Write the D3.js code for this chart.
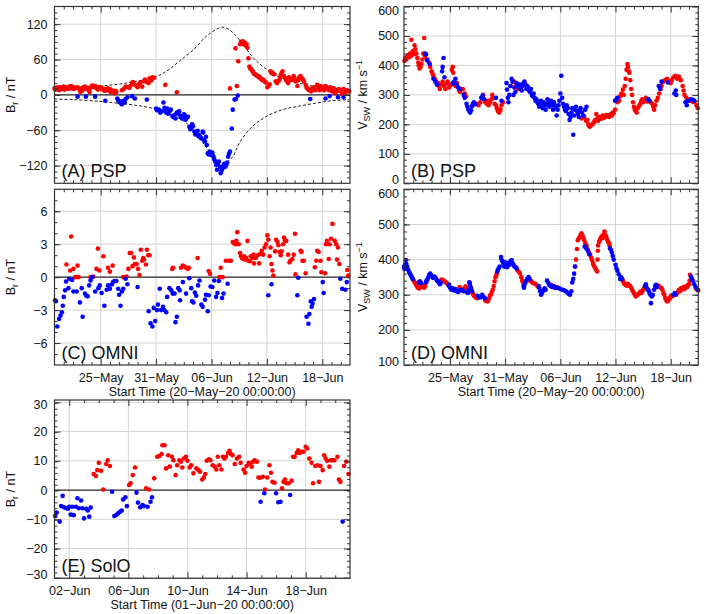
<!DOCTYPE html>
<html><head><meta charset="utf-8">
<script src="https://cdn.jsdelivr.net/npm/d3@7"></script>
<style>body{margin:0;background:#fff} svg{display:block;font-family:"Liberation Sans",Arial,Helvetica,sans-serif}</style>
</head><body><svg id="c" width="706" height="614"></svg>
<script>
// ---------- tick labels ----------
const mayTickDays = [5, 11, 17, 23, 29];
const mayTickLabels = ["25\u2212May", "31\u2212May", "06\u2212Jun", "12\u2212Jun", "18\u2212Jun"];
const junTickDays = [1, 5, 9, 13, 17];
const junTickLabels = ["02\u2212Jun", "06\u2212Jun", "10\u2212Jun", "14\u2212Jun", "18\u2212Jun"];
const mayTitle = "Start Time (20\u2212May\u221220 00:00:00)";
const junTitle = "Start Time (01\u2212Jun\u221220 00:00:00)";

// ---------- (A) PSP Br [day since 20-May, nT] ----------
const pspBrRed = [[0.0,11],[0.1,9],[0.2,12],[0.3,10],[0.4,13],[0.5,8],[0.6,11],[0.7,13],[0.8,10],[0.9,12],[1.0,14],[1.1,9],[1.2,12],[1.3,11],[1.4,13],[1.5,10],[1.6,14],[1.7,12],[1.8,15],[1.9,11],[2.0,13],[2.1,10],[2.3,12],[2.5,13],[2.7,9],[2.8,5],[2.9,11],[3.0,7],[3.1,13],[3.3,14],[3.4,10],[3.6,12],[3.7,8],[3.8,5],[3.9,12],[4.0,14],[4.1,16],[4.2,15],[4.3,13],[4.4,15],[4.5,14],[4.6,11],[4.7,9],[4.8,12],[4.9,13],[5.0,10],[5.1,12],[5.3,9],[5.4,7],[5.5,10],[5.6,8],[5.8,11],[5.9,7],[6.0,10],[6.1,5],[6.2,8],[6.4,6],[6.5,3],[6.6,7],[6.7,5],
[7.3,8],[7.5,10],[7.7,14],[7.9,13],[8.1,12],[8.2,15],[8.4,20],[8.5,22],[8.6,18],[8.8,16],[9.0,13],[9.1,18],[9.3,21],[9.5,14],[9.7,23],[9.8,26],[10.0,22],[10.2,20],[10.3,28],[10.5,25],[10.6,30],[10.8,29],[12.0,17],[13.25,4.5],
[19.0,11],[19.6,79],[19.75,15],[19.9,57],[20.1,86],[20.2,90],[20.3,88],[20.4,91],[20.5,86],[20.6,89],[20.7,84],[20.8,86],[20.9,80],[21.0,62],[21.1,48],[21.2,45],[21.3,44],[21.4,41],[21.5,39],[21.6,36],[21.7,35],[21.8,34],[21.9,33],[22.0,32],[22.1,30],[22.2,31],[22.3,28],[22.4,27],[22.5,25],[22.6,26],[22.7,24],[22.8,22],[22.9,21],[23.05,13],[23.2,15],[23.3,18],[23.4,40],[23.5,37],[23.6,38],[23.7,36],[23.8,35],[23.95,23],[24.1,20],[24.3,24],[24.4,28],[24.5,34],[24.6,37],[24.7,40],[24.85,32],[25.0,28],[25.1,25],[25.2,23],[25.3,20],[25.4,30],[25.6,25],[25.75,27],[25.9,32],[26.0,28],[26.1,23],[26.3,15],[26.4,25],[26.5,30],[26.65,32],[26.8,28],[26.9,26],[27.0,23],[27.2,17],[27.3,12],[27.4,11],[27.55,8],[27.8,6],[27.9,11],[28.0,9],[28.1,13],[28.25,8],[28.45,17],[28.6,11],[28.7,8],[28.8,15],[29.0,13],[29.1,10],[29.2,8],[29.35,15],[29.5,13],[29.6,11],[29.7,8],[29.9,13],[30.05,6],[30.15,9],[30.25,11],[30.4,3],[30.5,5],[30.6,7],[30.8,10],[30.9,8],[31.0,6],[31.15,1],[31.3,10],[31.5,4],[31.6,6],[31.7,8],[31.9,6]];
const pspBrBlue = [[2.5,-3],[3.4,-3],[4.4,-3],[5.5,-10],[6.8,-6],[6.9,-9],[7.0,-12],[7.1,-11],[7.2,-14],[7.3,-16],[7.4,-12],[7.5,-10],[7.6,-13],[7.7,-7],[7.9,-4],[8.4,-2],[8.7,-6],[10.0,-8],
[11.0,-23],[11.1,-26],[11.3,-25],[11.45,-30],[11.6,-28],[11.8,-13],[11.9,-22],[12.0,-25],[12.1,-30],[12.2,-23],[12.3,-32],[12.4,-28],[12.5,-27],[12.6,-25],[12.75,-36],[12.9,-38],[13.0,-34],[13.1,-40],[13.25,-30],[13.4,-32],[13.5,-28],[13.65,-36],[13.8,-40],[13.9,-38],[14.0,-33],[14.1,-34],[14.2,-42],[14.25,-40],[14.35,-38],[14.45,-37],[14.6,-54],[14.7,-58],[14.8,-57],[14.9,-50],[15.0,-53],[15.15,-62],[15.25,-67],[15.35,-65],[15.5,-61],[15.6,-70],[15.7,-68],[15.8,-72],[15.9,-74],[16.05,-62],[16.1,-64],[16.2,-76],[16.3,-79],[16.4,-71],[16.5,-85],[16.6,-99],[16.7,-101],[16.8,-96],[16.95,-102],[17.1,-98],[17.2,-104],[17.3,-109],[17.4,-113],[17.5,-119],[17.6,-127],[17.7,-118],[17.8,-113],[17.9,-122],[18.0,-133],[18.1,-128],[18.2,-125],[18.3,-120],[18.4,-117],[18.5,-122],[18.6,-119],[18.7,-115],[18.8,-105],[18.9,-100],[19.0,-96],[19.2,-57],[19.3,-25],[19.5,-8],[19.65,-7],[19.85,-1],
[27.7,-7],[29.35,-6],[29.8,-2],[30.7,-4],[31.3,-4]];
const pspModelUpper = [[0,11],[2,12],[4.9,15],[6.8,18],[8.5,22],[11,31],[12.3,42],[13.5,57],[15,76],[16.4,99],[17.5,111],[18.2,115],[18.9,111],[19.6,101],[20.5,84],[21.4,65],[22.2,53],[22.9,44],[23.8,35],[24.7,28],[25.6,24],[26.5,20],[28.3,14],[30,11.5],[31.9,10]];
const pspModelLower = [[0,-7],[2,-8],[4.9,-11],[6.8,-14],[8.5,-17],[10.7,-23],[12.8,-34],[14.3,-48],[15,-59],[16.4,-88],[17.5,-109],[18.4,-116],[19.3,-105],[20,-82],[21.4,-54],[22.9,-37],[24.7,-25],[26.5,-19],[28.3,-14],[30,-10],[31.9,-8]];

// ---------- (B) PSP Vsw [day, km/s] ----------
const pspVswRed = [[0.05,415],[0.15,425],[0.25,420],[0.35,430],[0.45,435],[0.55,428],[0.65,440],[0.75,432],[0.8,487],[0.9,445],[1.0,450],[1.1,438],[1.15,468],[1.25,455],[1.35,440],[1.45,425],[1.55,410],[1.6,400],[1.7,390],[1.8,395],[1.9,405],[2.0,420],[2.1,440],[2.2,493],[2.3,430],[2.55,420],[2.7,410],[2.85,395],[3.0,380],[3.1,372],[3.2,365],[3.35,355],[3.5,345],[3.6,335],[3.7,340],[3.8,330],[3.9,320],[4.0,335],[4.2,345],[4.35,330],[4.5,320],[4.6,338],[4.75,345],[4.9,325],[5.0,330],[5.1,335],[5.2,385],[5.3,395],[5.35,375],[5.5,335],[5.6,330],[5.75,340],[5.9,325],[6.0,315],[6.1,310],[6.4,320],[6.6,305],[6.75,295],
[7.9,270],[8.1,265],[8.3,275],[8.5,290],[8.6,300],[8.7,285],[8.85,275],[9.0,270],[9.1,280],[9.2,265],[9.35,275],[9.5,285],[9.6,300],[9.7,290],[9.85,270],[10.0,265],[10.1,255],[10.2,245],[10.35,240],[10.5,250],[10.6,265],[10.75,275],
[11.6,330],[12.0,345],[12.2,335],[12.4,320],[19.3,220],[19.6,225],[19.8,212],[19.95,215],[20.05,200],[20.1,195],
[20.2,192],[20.3,195],[20.4,198],[20.5,200],[20.6,205],[20.7,210],[20.8,215],[20.9,235],[21.0,220],[21.1,212],[21.2,225],[21.3,218],[21.4,225],[21.5,220],[21.6,230],[21.7,222],[21.8,228],[21.9,225],[22.0,232],[22.1,228],[22.2,230],[22.3,225],[22.4,232],[22.5,235],[22.6,230],[22.7,240],[22.8,238],[22.95,250],[23.2,275],[23.4,280],[23.5,295],[23.65,305],[23.8,318],[23.9,300],[24.0,330],[24.1,355],[24.2,385],[24.3,405],[24.35,395],[24.45,380],[24.5,375],[24.6,350],[24.7,320],[24.8,300],[24.9,275],[25.0,260],[25.1,250],[25.2,245],[25.3,240],[25.4,255],[25.5,260],[25.6,265],[25.7,270],[25.8,280],[25.9,285],[26.0,275],[26.15,282],[26.3,290],[26.45,278],[26.6,285],[26.8,275],[27.0,270],[27.1,260],[27.2,250],[27.3,265],[27.45,280],[27.6,290],[27.75,305],[27.9,320],[28.0,330],[28.2,345],[28.4,350],[28.6,355],[28.8,345],[29.0,340],[29.1,350],[29.3,360],[29.5,365],[29.6,360],[29.7,355],[29.9,362],[30.1,350],[30.3,330],[30.4,315],[30.5,300],[30.7,290],[30.9,285],[31.1,280],[31.3,282],[31.45,276],[31.6,278],[31.8,265],[31.95,255]];
const pspVswBlue = [[2.3,440],[2.4,438],[2.5,418],[2.8,405],[3.2,355],[3.4,345],[3.6,335],[4.15,380],[4.2,395],[4.3,425],[4.4,360],[5.3,340],[5.45,345],[5.6,355],[5.7,335],[5.9,325],[6.1,320],[6.5,300],[6.6,290],[6.8,270],[6.9,260],[7.0,250],[7.1,245],[7.2,240],[7.3,248],[7.4,262],[7.5,270],[7.6,275],[7.75,268],[8.4,290],[8.55,298],[8.7,285],[10.0,290],[10.6,280],
[11.15,340],[11.2,318],[11.3,290],[11.35,275],[11.45,300],[11.55,330],[11.7,355],[11.8,345],[11.9,300],[12.0,325],[12.1,310],[12.25,340],[12.35,330],[12.5,325],[12.6,335],[12.7,320],[12.8,315],[12.9,330],[13.0,340],[13.1,345],[13.2,335],[13.3,320],[13.4,330],[13.5,325],[13.6,315],[13.7,310],[13.8,320],[13.9,300],[14.0,295],[14.1,305],[14.2,290],[14.3,280],[14.4,285],[14.5,275],[14.6,270],[14.7,260],[14.8,265],[14.9,280],[15.0,270],[15.1,255],[15.2,275],[15.3,265],[15.4,250],[15.5,268],[15.6,285],[15.7,275],[15.8,260],[15.9,270],[16.0,280],[16.1,265],[16.2,250],[16.3,275],[16.4,265],[16.5,255],[16.6,230],[16.7,250],[16.8,265],[16.9,280],[17.0,305],[17.1,365],[17.2,290],[17.3,270],[17.4,260],[17.5,250],[17.6,245],[17.7,265],[17.8,255],[17.9,235],[18.0,215],[18.1,225],[18.2,240],[18.3,255],[18.4,165],[18.5,230],[18.6,250],[18.7,260],[18.8,245],[18.9,235],[19.0,225],[19.1,245],[19.2,255],[19.35,240],[19.5,230],[19.7,250],[19.85,260],
[22.95,280],[23.1,285],[23.2,290],[26.55,285],[26.7,280],[27.7,330],[27.85,320],[28.0,345],[28.7,342],[29.4,305],[29.55,315],[29.6,300],[30.6,275],[30.75,265],[30.9,280],[31.2,285],[31.4,283],[31.55,280]];

// ---------- (C) OMNI Br [day, nT] ----------
const omniBrRed = [[1.3,1.15],[1.7,0.6],[1.8,3.7],[2.05,0.75],[2.25,0],[2.5,1.05],[2.6,0],[3.9,0],[4.2,0.05],[4.55,0.75],[4.7,2.6],[4.85,0.6],[5.3,1.9],[5.8,0.85],[6.0,0.5],[6.3,1.05],[7.45,0],[7.8,0.05],[8.0,0.75],[8.15,2.2],[8.3,2.2],[8.45,1.0],[8.6,1.8],[8.7,1.2],[8.9,1.2],[9.05,0.75],[9.2,0.2],[9.35,2.5],[9.5,1.5],[9.6,1.75],[9.7,1.6],[9.9,1.15],[10.0,2.5],[10.15,2.0],[10.3,2.0],
[12.75,0.75],[12.85,0.85],[13.7,0.85],[13.9,1.05],[14.1,0.95],[14.25,0.85],[14.45,0.75],[14.55,0.85],[15.5,1.75],[16.7,0.55],[16.85,0.3],[17.85,0],[18.0,0.85],[18.2,0],[18.55,1.5],[18.9,1.5],[19.1,1.5],[19.3,3.2],[19.4,3.1],[19.6,3.0],[19.7,3.3],[19.8,4.1],[19.95,3.0],[20.1,2.2],[20.2,1.9],[20.3,1.75],[20.45,1.65],[20.55,1.9],[20.65,1.6],[20.75,1.75],[20.9,3.3],[21.0,1.5],[21.15,1.45],[21.25,1.9],[21.45,1.75],[21.55,2.05],[21.6,1.25],[21.8,1.75],[22.0,2.0],[22.15,1.25],[22.25,2.1],[22.45,2.4],[22.6,2.05],[22.75,2.7],[22.9,3.0],[23.05,3.8],[23.15,3.4],[23.3,1.9],[23.4,2.7],[23.5,1.2],[23.6,0.6],[23.7,0.15],[23.9,2.35],[24.0,3.4],[24.15,3.2],[24.25,2.9],[24.4,2.3],[24.5,2.0],[24.6,2.35],[24.75,3.0],[24.85,3.6],[24.95,3.35],[25.1,3.3],[25.3,2.05],[25.45,1.35],[25.55,1.5],[25.75,1.65],[25.9,2.05],[26.05,3.95],[26.1,0.25],[26.65,2.4],[26.75,2.3],[26.85,1.5],[27.0,1.5],[27.2,0.35],[28.2,0.9],[28.35,1.5],[28.45,2.4],[28.6,2.3],[28.8,1.5],[28.9,0.45],[29.3,0.35],[29.4,3.0],[29.5,3.3],[29.7,1.65],[29.8,3.0],[29.95,3.5],[30.1,4.85],[30.35,3.3],[30.5,3.0],[30.6,1.6],[30.7,2.7],[30.85,1.2],[31.7,0.65],[31.8,0.15]];
const omniBrBlue = [[0.07,-2.1],[0.15,-2.2],[0.3,-4.5],[0.5,-3.8],[0.65,-3.5],[0.8,-3.2],[0.9,-2.6],[1.0,-1.8],[1.15,-1.2],[1.25,-0.4],[1.5,-1.0],[1.6,-0.15],[1.9,-0.25],[2.05,-1.3],[2.4,-1.3],[2.75,-2.3],[2.95,-1.0],[3.05,-3.6],[3.3,-1.5],[3.45,-1.7],[3.6,-1.75],[3.75,-0.75],[3.9,-0.3],[4.1,0],[4.4,-1.3],[4.75,-1.0],[4.9,-0.75],[5.1,-1.45],[5.4,-2.6],[5.65,-1.15],[5.8,-0.75],[6.0,-1.05],[6.2,-0.67],[6.35,-0.45],[6.5,-0.35],[6.7,-0.35],[6.9,-1.05],[7.0,-1.6],[7.15,-2.6],[7.3,-1.3],[7.45,-1.05],[7.7,-0.15],[7.9,-0.65],[9.0,-0.9],
[10.2,-3.1],[10.4,-4.2],[10.6,-4.5],[10.75,-2.8],[10.9,-4.0],[11.1,-3.0],[11.2,-2.5],[11.4,-1.05],[11.55,-3.0],[11.75,-2.7],[11.9,-3.0],[12.1,-3.2],[12.2,-1.8],[12.45,-1.0],[12.65,-1.2],[12.8,-1.5],[13.0,-1.5],[13.1,-4.1],[13.25,-3.6],[13.4,-1.0],[13.55,-1.2],[13.6,-2.1],[13.9,-0.45],[14.25,-1.5],[14.6,-0.1],[14.8,-1.0],[14.9,-2.2],[15.05,-2.3],[15.2,-1.4],[15.35,-1.7],[15.55,-0.75],[15.7,-0.3],[15.9,-2.5],[16.05,-2.7],[16.3,-2.05],[16.4,-1.6],[16.6,-3.1],[16.7,-1.65],[16.9,-0.85],[17.1,-0.9],[17.3,-0.3],[17.5,-1.8],[17.65,-1.45],[17.8,-0.35],[18.15,-1.9],[18.3,-1.5],[18.75,-0.6],
[23.15,-1.65],[23.5,-0.65],[26.3,-1.65],[26.4,-0.05],[27.3,-3.6],[27.5,-4.25],[27.6,-3.35],[27.75,-2.2],[27.85,-2.7],[27.95,-2.4],[28.1,-2.0],[29.05,-0.45],[29.15,-1.45],[30.95,-0.15],[31.15,-1.05],[31.5,-1.15],[31.65,-0.45]];

// ---------- (D) OMNI Vsw [day, km/s] ----------
const omniVswRed = [[1.0,343],[1.1,338],[1.2,333],[1.35,326],[1.45,322],[1.55,319],[1.65,318],[1.8,322],[1.9,326],[2.0,328],[2.1,322],[2.2,320],[2.3,325],[4.05,340],[4.1,343],[4.2,341],[4.3,340],[4.4,338],[4.5,336],[4.6,333],[4.7,331],[4.8,330],[6.05,322],[6.1,319],[6.2,316],[6.6,320],[6.7,324],[6.8,320],[7.45,305],[7.55,300],[7.6,298],[7.7,295],[7.8,293],[7.9,291],[7.95,290],[8.85,283],[8.95,286],[9.05,281],[9.15,283],[9.25,290],[9.35,298],[9.45,300],[9.55,308],[9.65,314],[9.75,325],[9.85,338],[9.95,350],[10.05,357],[10.1,362],[12.3,371],[12.45,366],[12.6,361],[12.75,350],[12.85,340],[12.95,335],[13.68,342],[13.7,340],[13.85,338],[13.95,335],[14.05,333],[14.2,332],[14.35,330],[14.5,325],[14.6,322],[16.0,328],[16.2,324],[16.4,319],[16.6,322],[18.6,380],[18.7,400],[18.8,430],[18.9,455],[19.0,460],[19.1,464],[19.2,470],[19.3,475],[19.4,470],[19.5,462],[19.6,455],[19.7,447],[19.85,440],[19.95,430],[20.1,420],[20.25,414],[20.35,405],[20.45,399],[20.55,390],[20.6,385],[20.7,380],[20.8,375],[20.9,371],[21.0,366],[21.05,400],[21.08,425],[21.1,440],[21.2,450],[21.3,456],[21.4,462],[21.5,466],[21.6,461],[21.7,472],[21.8,480],[21.9,470],[22.0,465],[22.1,456],[22.2,450],[22.3,447],[22.35,440],[23.75,342],[23.8,340],[23.9,333],[24.0,330],[24.1,328],[24.2,326],[24.3,331],[24.4,330],[24.5,326],[24.6,324],[24.7,320],[24.8,314],[24.9,309],[25.0,305],[25.1,300],[25.2,295],[25.3,298],[25.4,300],[25.5,302],[25.6,305],[25.7,309],[25.8,305],[25.9,310],[26.0,314],[26.1,318],[27.55,324],[27.6,326],[27.75,324],[27.9,320],[28.0,319],[28.1,314],[28.2,305],[28.3,300],[28.4,291],[28.5,286],[28.6,281],[28.7,283],[28.8,286],[28.9,290],[29.0,295],[29.1,298],[29.2,296],[29.6,300],[29.7,305],[29.8,309],[29.9,314],[30.0,310],[30.1,318],[30.2,314],[30.3,319],[30.4,322],[30.5,316],[30.6,320],[30.7,324],[30.8,322],[30.9,328],[31.0,330],[31.05,340],[31.1,357],[31.75,318],[31.85,315],[31.99,312]];
const omniVswBlue = [[0.0,379],[0.05,373],[0.1,385],[0.2,399],[0.25,388],[0.35,380],[0.45,371],[0.55,365],[0.65,360],[0.75,355],[0.85,350],[0.95,345],[1.6,335],[1.75,338],[1.85,333],[2.4,335],[2.45,340],[2.55,343],[2.65,350],[2.75,357],[2.85,360],[2.95,355],[3.05,352],[3.15,348],[3.25,352],[3.35,350],[3.5,345],[3.6,340],[3.7,338],[3.8,335],[3.9,330],[4.0,333],[4.85,326],[4.9,328],[5.0,320],[5.15,314],[5.3,318],[5.45,312],[5.6,316],[5.75,310],[5.9,308],[6.0,312],[6.25,314],[6.3,312],[6.5,310],[6.85,307],[6.95,305],[7.05,315],[7.1,335],[7.15,333],[7.2,325],[7.3,318],[7.4,310],[8.0,297],[8.15,292],[8.35,293],[8.5,300],[8.7,293],[8.8,290],[10.15,366],[10.2,371],[10.3,375],[10.4,380],[10.55,407],[10.6,400],[10.7,395],[10.8,388],[10.9,380],[11.0,392],[11.1,385],[11.2,378],[11.3,390],[11.45,385],[11.55,395],[11.7,399],[11.8,390],[11.9,385],[12.0,380],[12.15,378],[12.25,375],[13.0,325],[13.05,320],[13.1,328],[13.2,335],[13.3,340],[13.4,345],[13.55,350],[13.65,345],[14.65,325],[14.7,320],[14.8,310],[14.9,300],[15.0,305],[15.1,310],[15.2,315],[15.3,318],[15.4,314],[15.55,340],[15.7,333],[15.8,328],[15.95,325],[16.1,322],[16.3,324],[16.5,320],[16.7,320],[16.9,318],[17.1,315],[17.3,314],[17.45,312],[17.6,310],[17.75,306],[17.9,303],[18.05,300],[18.2,310],[18.3,335],[18.4,345],[18.5,360],[18.6,380],[19.65,437],[19.8,432],[20.0,425],[20.15,415],[22.4,432],[22.5,428],[22.6,420],[22.7,410],[22.8,400],[23.0,385],[23.1,375],[23.2,368],[23.35,358],[23.5,345],[23.6,350],[23.7,345],[26.2,325],[26.3,330],[26.4,320],[26.5,314],[26.6,312],[26.7,305],[26.8,300],[26.85,276],[26.95,295],[27.05,300],[27.2,314],[27.3,325],[27.4,328],[27.5,322],[29.3,300],[29.45,305],[29.5,300],[31.2,352],[31.3,345],[31.4,340],[31.55,330],[31.7,322],[31.95,314]];

// ---------- (E) SolO Br [day since 01-Jun, nT] ----------
const soloBrRed = [[2.65,5.5],[2.8,4.8],[2.9,6.8],[3.0,9.3],[3.15,6.6],[3.3,0.2],[3.5,8.9],[3.6,10.2],[3.75,8.2],[5.05,1.7],[5.15,2.3],[5.3,5.1],[5.45,7.7],[6.2,0.6],[6.4,0.2],[6.75,4.0],[6.95,11.4],[7.1,11.6],[7.25,12.3],[7.3,15.3],[7.45,15.3],[7.55,7.4],[7.7,11.9],[7.8,8.0],[7.95,11.4],[8.05,10.2],[8.2,5.1],[8.3,8.5],[8.45,10.2],[8.55,9.7],[8.65,7.7],[8.75,10.8],[8.9,11.4],[9.0,10.0],[9.15,7.7],[9.25,8.5],[9.4,5.7],[9.6,7.4],[9.75,6.8],[9.85,6.25],[10.0,3.6],[10.1,4.3],[10.2,5.5],[10.3,10.0],[10.45,10.5],[10.55,10.2],[10.7,8.5],[10.85,8.0],[10.95,7.0],[11.05,11.4],[11.15,8.5],[11.3,7.0],[11.4,11.4],[11.5,10.8],[11.6,11.4],[11.75,12.7],[11.85,13.4],[11.95,12.3],[12.05,11.9],[12.2,8.9],[12.35,10.8],[12.5,11.4],[12.6,9.3],[12.8,7.0],[12.9,5.9],[13.0,8.2],[13.15,9.3],[13.25,8.9],[13.35,8.0],[13.45,9.7],[13.55,10.2],[13.7,9.7],[13.8,4.3],[13.9,4.2],[14.1,4.5],[14.25,0.2],[14.4,4.3],[14.55,8.5],[14.65,5.9],[14.75,2.8],[14.9,2.5],[15.4,0.6],[15.5,2.8],[15.6,3.6],[15.7,2.3],[15.85,2.3],[16.05,3.2],[16.15,11.4],[16.25,11.4],[16.4,12.7],[16.5,13.6],[16.6,12.7],[16.75,13.1],[16.85,13.1],[17.0,14.8],[17.1,14.2],[17.25,10.8],[17.4,9.3],[17.5,2.3],[17.65,8.2],[17.8,8.5],[17.9,2.8],[18.0,8.2],[18.15,6.8],[18.25,11.9],[18.35,10.8],[18.45,10.0],[18.6,8.0],[18.7,10.2],[18.8,10.2],[18.95,10.2],[19.15,11.4],[19.25,3.6],[19.35,2.8],[19.6,8.2],[19.75,9.7],[19.9,5.5]];
const soloBrBlue = [[0.05,-8.9],[0.15,-7.7],[0.35,-10.8],[0.45,-5.5],[0.55,-2.0],[0.65,-5.9],[0.8,-6.25],[0.9,-6.4],[1.0,-5.7],[1.1,-8.4],[1.2,-5.7],[1.3,-8.6],[1.45,-5.7],[1.55,-2.8],[1.65,-6.25],[1.8,-3.6],[1.9,-6.25],[2.0,-9.7],[2.15,-6.4],[2.25,-7.0],[2.35,-9.1],[2.45,-6.0],[3.9,-0.6],[4.05,-8.9],[4.2,-8.5],[4.3,-8.0],[4.45,-7.4],[4.55,-7.0],[4.65,-3.2],[4.8,-2.5],[4.9,-5.5],[5.55,-0.9],[5.65,-4.3],[5.8,-5.9],[5.95,-5.1],[6.05,-5.5],[6.3,-5.7],[6.5,-4.0],[6.6,-2.5],[13.95,-4.0],[14.2,-1.1],[15.0,-1.1],[15.15,-4.2],[15.3,-4.0],[15.95,-1.7],[19.5,-10.8]];

// ---------- drawing ----------
const svg = d3.select("#c");
const FONT = '"Liberation Sans",Arial,Helvetica,sans-serif';

function addTitle(g, kind, x, yc) {
  const t = g.append("text").attr("transform", `translate(${x},${yc}) rotate(-90)`)
    .attr("text-anchor", "middle").attr("font-size", 12.5).attr("fill", "#111");
  if (kind === "br") {
    t.append("tspan").text("B");
    t.append("tspan").attr("font-size", 9).attr("dy", 3).text("r");
    t.append("tspan").attr("dy", -3).text(" / nT");
  } else {
    t.append("tspan").text("V");
    t.append("tspan").attr("font-size", 9).attr("dy", 3).text("SW");
    t.append("tspan").attr("dy", -3).text(" / km s");
    t.append("tspan").attr("font-size", 9).attr("dy", -5).text("\u22121");
  }
}

function panel(o) {
  const g = svg.append("g");
  const x = d3.scaleLinear().domain([0, o.nDays]).range([o.x0, o.x1]);
  const y = d3.scaleLinear().domain(o.yDomain).range([o.y1, o.y0]);
  const yMaj = d3.range(o.yMajor[0], o.yMajor[1] + 1e-9, o.yMajor[2]);
  const yMin = d3.range(o.yDomain[0], o.yDomain[1] + 1e-9, o.yMinorStep).filter(v => v > o.yDomain[0] && v < o.yDomain[1]);
  const xMin = d3.range(1, o.nDays).filter(v => !o.xTicks.includes(v));
  // grid
  g.append("g").selectAll("line").data(o.xTicks).join("line")
    .attr("x1", d => x(d)).attr("x2", d => x(d)).attr("y1", o.y0).attr("y2", o.y1)
    .attr("stroke", "#d4d4d4").attr("stroke-width", 1);
  g.append("g").selectAll("line").data(yMaj.filter(v => v !== 0 || !o.zero)).join("line")
    .attr("x1", o.x0).attr("x2", o.x1).attr("y1", d => y(d)).attr("y2", d => y(d))
    .attr("stroke", "#d4d4d4").attr("stroke-width", 1);
  if (o.zero) {
    g.append("line").attr("x1", o.x0).attr("x2", o.x1).attr("y1", y(0)).attr("y2", y(0))
      .attr("stroke", "#222").attr("stroke-width", 1.2);
  }
  // model curves
  (o.curves || []).forEach(c => {
    g.append("path").datum(c).attr("fill", "none").attr("stroke", "#222").attr("stroke-width", 1)
      .attr("stroke-dasharray", "3,2")
      .attr("d", d3.line().x(d => x(d[0])).y(d => y(d[1])).curve(d3.curveCatmullRom));
  });
  // points
  const pts = g.append("g");
  pts.selectAll("circle.r").data(o.red).join("circle").attr("class", "r")
    .attr("cx", d => x(d[0])).attr("cy", d => y(d[1])).attr("r", 2.3).attr("fill", "#ff0000");
  pts.selectAll("circle.b").data(o.blue).join("circle").attr("class", "b")
    .attr("cx", d => x(d[0])).attr("cy", d => y(d[1])).attr("r", 2.3).attr("fill", "#0000ff");
  // axes (inward ticks, all four sides)
  const axG = (axis, tx, ty) => {
    const a = g.append("g").attr("transform", `translate(${tx},${ty})`).call(axis);
    a.select(".domain").remove();
    a.selectAll("line").attr("stroke", "#333");
    a.selectAll("text").attr("font-family", FONT).attr("fill", "#111");
    return a;
  };
  const left = axG(d3.axisLeft(y).tickValues(yMaj).tickSize(-6).tickPadding(o.yPad).tickFormat(d3.format("d")), o.x0, 0);
  left.selectAll("text").attr("font-size", 12.5)
    .attr("dy", d => {
      const py = y(d);
      if (py - o.y0 < 5) return (o.y0 + 4 - py + 4.3) + "px";
      if (o.y1 - py < 5) return (o.y1 - 4 - py + 4.3) + "px";
      return "0.32em";
    });
  axG(d3.axisLeft(y).tickValues(yMin).tickSize(-3).tickFormat(""), o.x0, 0);
  axG(d3.axisRight(y).tickValues(yMaj).tickSize(-6).tickFormat(""), o.x1, 0);
  axG(d3.axisRight(y).tickValues(yMin).tickSize(-3).tickFormat(""), o.x1, 0);
  const bot = axG(d3.axisBottom(x).tickValues(o.xTicks).tickSize(-6).tickPadding(8)
    .tickFormat((d, i) => o.showX ? o.xLabels[i] : ""), 0, o.y1);
  bot.selectAll("text").attr("font-size", 12.5);
  axG(d3.axisBottom(x).tickValues(xMin).tickSize(-3).tickFormat(""), 0, o.y1);
  axG(d3.axisTop(x).tickValues(o.xTicks).tickSize(-6).tickFormat(""), 0, o.y0);
  axG(d3.axisTop(x).tickValues(xMin).tickSize(-3).tickFormat(""), 0, o.y0);
  // frame
  g.append("rect").attr("x", o.x0).attr("y", o.y0).attr("width", o.x1 - o.x0).attr("height", o.y1 - o.y0)
    .attr("fill", "none").attr("stroke", "#333").attr("stroke-width", 1.2);
  // x title
  if (o.xTitle) {
    g.append("text").attr("x", (o.x0 + o.x1) / 2).attr("y", o.y1 + 31).attr("text-anchor", "middle")
      .attr("font-size", 12.5).attr("fill", "#111").text(o.xTitle);
  }
  // panel label
  g.append("text").attr("x", o.x0 + 7).attr("y", o.y1 - 6).attr("font-size", 18).attr("fill", "#111").text(o.label);
  addTitle(g, o.kind, o.titleX, (o.y0 + o.y1) / 2);
}

const L = {x0: 54.5, x1: 350}, R = {x0: 404, x1: 698.3};
panel({...L, y0: 6.5, y1: 183.3, nDays: 32, xTicks: mayTickDays, xLabels: mayTickLabels, showX: false,
  yDomain: [-150, 150], yMajor: [-120, 120, 60], yMinorStep: 10, yPad: 7, zero: true,
  red: pspBrRed, blue: pspBrBlue, curves: [pspModelUpper, pspModelLower], label: "(A) PSP", kind: "br", titleX: 14.5});
panel({...R, y0: 6.5, y1: 183.3, nDays: 32, xTicks: mayTickDays, xLabels: mayTickLabels, showX: false,
  yDomain: [0, 600], yMajor: [0, 600, 100], yMinorStep: 20, yPad: 5, zero: false,
  red: pspVswRed, blue: pspVswBlue, label: "(B) PSP", kind: "vsw", titleX: 367});
panel({...L, y0: 189.3, y1: 365, nDays: 32, xTicks: mayTickDays, xLabels: mayTickLabels, showX: true, xTitle: mayTitle,
  yDomain: [-8, 8], yMajor: [-6, 6, 3], yMinorStep: 1, yPad: 7, zero: true,
  red: omniBrRed, blue: omniBrBlue, label: "(C) OMNI", kind: "br", titleX: 14.5});
panel({...R, y0: 189.3, y1: 365, nDays: 32, xTicks: mayTickDays, xLabels: mayTickLabels, showX: true, xTitle: mayTitle,
  yDomain: [100, 600], yMajor: [100, 600, 100], yMinorStep: 20, yPad: 5, zero: false,
  red: omniVswRed, blue: omniVswBlue, label: "(D) OMNI", kind: "vsw", titleX: 367});
panel({...L, y0: 400, y1: 578.3, nDays: 20, xTicks: junTickDays, xLabels: junTickLabels, showX: true, xTitle: junTitle,
  yDomain: [-30.2, 30.8], yMajor: [-30, 30, 10], yMinorStep: 2, yPad: 7, zero: true,
  red: soloBrRed, blue: soloBrBlue, label: "(E) SolO", kind: "br", titleX: 14.5});
</script></body></html>
